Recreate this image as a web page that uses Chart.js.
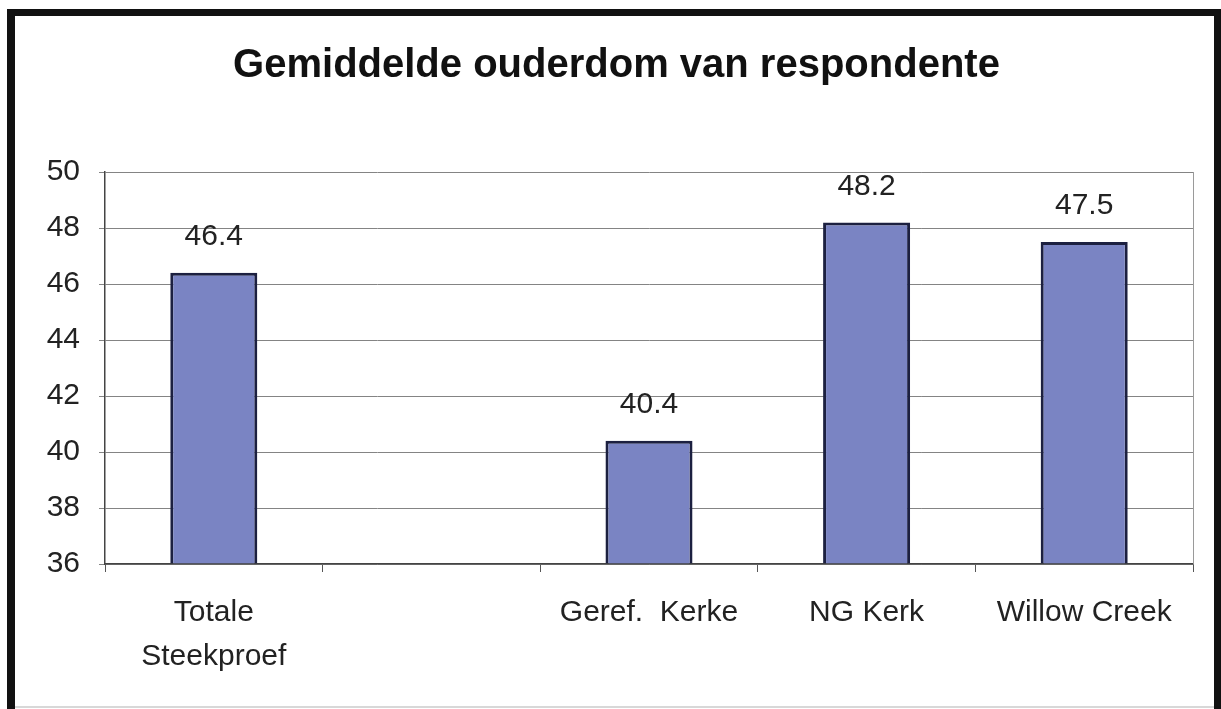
<!DOCTYPE html>
<html>
<head>
<meta charset="utf-8">
<script src="https://cdn.jsdelivr.net/npm/chart.js@4"></script>
<style>
  html, body { margin: 0; padding: 0; background: #fff; }
  canvas { display: block; }
</style>
</head>
<body>
<canvas id="chart" width="1221" height="709"></canvas>
<script>
const categories = [["Totale", "Steekproef"], "", "Geref.  Kerke", "NG Kerk", "Willow Creek"]
const ages = [46.4, null, 40.4, 48.2, 47.5]
const yTicks = { min: 36, max: 50, step: 2 }

const fontFamily = "'Liberation Sans', Arial, sans-serif"

// outer frame, right border of the plot and the value labels
const framePlugin = {
  id: "frame",
  afterDatasetsDraw(chart) {
    const ctx = chart.ctx
    const area = chart.chartArea
    ctx.save()
    ctx.strokeStyle = "#9a9a9a"
    ctx.lineWidth = 1
    ctx.beginPath()
    ctx.moveTo(area.right + 0.5, area.top)
    ctx.lineTo(area.right + 0.5, area.bottom)
    ctx.stroke()

    ctx.fillStyle = "#222"
    ctx.font = "30px " + fontFamily
    ctx.textAlign = "center"
    ctx.textBaseline = "middle"
    const meta = chart.getDatasetMeta(0)
    meta.data.forEach((bar, i) => {
      const v = ages[i]
      if (v === null) return
      ctx.fillText(v.toFixed(1), bar.x, bar.y - 36)
    })
    ctx.restore()
  },
  afterDraw(chart) {
    const ctx = chart.ctx
    ctx.save()
    ctx.fillStyle = "#111"
    ctx.fillRect(7, 9, 1214, 7)
    ctx.fillRect(7, 9, 8, 700)
    ctx.fillRect(1214, 9, 7, 700)
    ctx.fillStyle = "#d8d8d8"
    ctx.fillRect(15, 706, 1199, 2)
    ctx.restore()
  }
}

new Chart("chart", {
  type: "bar",
  data: {
    labels: categories,
    datasets: [{
      data: ages,
      base: yTicks.min,
      backgroundColor: "#7a84c3",
      borderColor: "#1c2040",
      borderWidth: 3,
      categoryPercentage: 1,
      barPercentage: 0.4,
    }]
  },
  options: {
    responsive: false,
    animation: false,
    layout: {
      padding: { top: 0, right: 28, left: 40, bottom: 0 }
    },
    plugins: {
      legend: { display: false },
      tooltip: { enabled: false },
      title: {
        display: true,
        text: "Gemiddelde ouderdom van respondente",
        color: "#111",
        font: { family: fontFamily, size: 40, weight: "bold", lineHeight: 1.2 },
        padding: { top: 42, bottom: 82 }
      }
    },
    scales: {
      x: {
        grid: {
          display: true,
          drawOnChartArea: false,
          drawTicks: true,
          tickLength: 8,
          color: "#555",
        },
        border: { color: "#444", width: 1.5 },
        ticks: {
          color: "#222",
          padding: 19,
          maxRotation: 0,
          autoSkip: false,
          font: { family: fontFamily, size: 30, lineHeight: 1.47 }
        },
        afterFit(scale) { scale.height = 145 }
      },
      y: {
        min: yTicks.min,
        max: yTicks.max,
        grid: {
          color: "#848484",
          lineWidth: 1,
          tickLength: 6,
        },
        border: { color: "#444", width: 1.5 },
        ticks: {
          stepSize: yTicks.step,
          color: "#222",
          padding: 19,
          font: { family: fontFamily, size: 30 }
        },
        afterFit(scale) { scale.width = 65 }
      }
    }
  },
  plugins: [framePlugin]
})
</script>
</body>
</html>
